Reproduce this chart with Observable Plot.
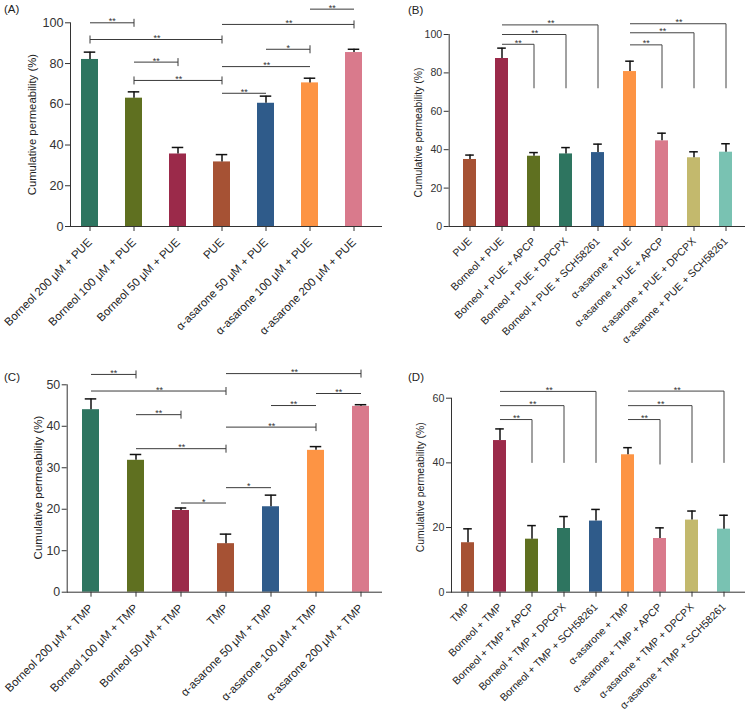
<!DOCTYPE html>
<html><head><meta charset="utf-8">
<script src="https://cdn.jsdelivr.net/npm/d3@7"></script>
<script src="https://cdn.jsdelivr.net/npm/@observablehq/plot@0.6"></script>
<style>
body{margin:0;background:#fff;font-family:"Liberation Sans",Arial,sans-serif;}
#root{position:relative;width:745px;height:713px;overflow:hidden;background:#fff;}
.panel{position:absolute;}
.tag{position:absolute;font-size:11.5px;color:#222;font-family:"Liberation Sans",Arial,sans-serif;}
</style></head><body><div id="root"></div>
<script>
// ---------- Panel A (PUE, concentration) ----------
const catsA = ["Borneol 200 μM + PUE","Borneol 100 μM + PUE","Borneol 50 μM + PUE","PUE","α-asarone 50 μM + PUE","α-asarone 100 μM + PUE","α-asarone 200 μM + PUE"];
const meanA = [82.0, 63.0, 35.6, 31.7, 60.5, 70.5, 85.4];
const upperA = [85.6, 66.1, 38.8, 35.3, 64.0, 72.8, 87.0];
const ticksA = [0, 20, 40, 60, 80, 100];
// [fromIndex, toIndex, level, label, leftTick, rightTick]
const bracketsA = [
  [0, 1, 100.0, "**", 0, 1],
  [0, 3, 91.8, "**", 1, 1],
  [1, 2, 80.7, "**", 0, 1],
  [1, 3, 71.7, "**", 1, 1],
  [3, 4, 65.4, "**", 0, 0],
  [3, 5, 78.5, "**", 0, 0],
  [4, 5, 87.0, "*", 0, 1],
  [3, 6, 99.2, "**", 0, 1],
  [5, 6, 106.7, "**", 0, 0]
];
// ---------- Panel B (PUE, antagonists) ----------
const catsB = ["PUE","Borneol + PUE","Borneol + PUE + APCP","Borneol + PUE + DPCPX","Borneol + PUE + SCH58261","α-asarone + PUE","α-asarone + PUE + APCP","α-asarone + PUE + DPCPX","α-asarone + PUE + SCH58261"];
const meanB = [34.9, 87.5, 36.6, 37.8, 38.5, 80.7, 44.6, 35.8, 38.7];
const upperB = [37.2, 92.9, 38.5, 41.1, 42.9, 86.1, 48.6, 38.9, 43.1];
const ticksB = [0, 20, 40, 60, 80, 100];
// [fromIndex, toIndex, level, label, dropTo]
const bracketsB = [
  [1, 2, 94.9, "**", 72],
  [1, 3, 100.0, "**", 72],
  [1, 4, 105.0, "**", 72],
  [5, 6, 94.6, "**", 72],
  [5, 7, 100.9, "**", 72],
  [5, 8, 105.6, "**", 72]
];
// ---------- Panel C (TMP, concentration) ----------
const catsC = ["Borneol 200 μM + TMP","Borneol 100 μM + TMP","Borneol 50 μM + TMP","TMP","α-asarone 50 μM + TMP","α-asarone 100 μM + TMP","α-asarone 200 μM + TMP"];
const meanC = [44.0, 31.8, 19.7, 11.7, 20.6, 34.2, 44.8];
const upperC = [46.6, 33.2, 20.3, 14.0, 23.4, 35.1, 45.2];
const ticksC = [0, 10, 20, 30, 40, 50];
const bracketsC = [
  [0, 1, 52.5, "**", 0, 1],
  [0, 3, 48.5, "**", 0, 1],
  [1, 2, 42.8, "**", 0, 1],
  [1, 3, 34.6, "**", 0, 1],
  [2, 3, 21.5, "*", 0, 0],
  [3, 4, 25.2, "*", 0, 0],
  [3, 5, 39.8, "**", 0, 1],
  [4, 5, 45.0, "**", 0, 0],
  [3, 6, 52.7, "**", 0, 1],
  [5, 6, 47.9, "**", 0, 0]
];
// ---------- Panel D (TMP, antagonists) ----------
const catsD = ["TMP","Borneol + TMP","Borneol + TMP + APCP","Borneol + TMP + DPCPX","Borneol + TMP + SCH58261","α-asarone + TMP","α-asarone + TMP + APCP","α-asarone + TMP + DPCPX","α-asarone + TMP + SCH58261"];
const meanD = [15.3, 46.9, 16.4, 19.7, 22.0, 42.5, 16.6, 22.3, 19.5];
const upperD = [19.6, 50.5, 20.6, 23.4, 25.6, 44.7, 19.9, 25.1, 23.8];
const ticksD = [0, 20, 40, 60];
const bracketsD = [
  [1, 2, 53.4, "**", 40],
  [1, 3, 57.7, "**", 40],
  [1, 4, 62.1, "**", 40],
  [5, 6, 53.4, "**", 39.5],
  [5, 7, 57.7, "**", 40],
  [5, 8, 62.2, "**", 40]
];
// ---------- Colours ----------
const colorsConc = ["#2e7560","#5f7020","#9b2a4a","#a65234","#2f5b8a","#fd9444","#d97a8c"];
const colorsAnt = ["#a65234","#9b2a4a","#5f7020","#2e7560","#2f5b8a","#fd9444","#d97a8c","#c3b96d","#79c2b2"];

const FONT = "Liberation Sans, Arial, sans-serif";
const root = document.getElementById("root");

function makePanel(o) {
  const rows = o.cats.map((c, i) => ({c, m: o.mean[i], u: o.upper[i]}));
  const W = o.width - o.mL - o.mR;
  const n = o.cats.length;
  const step = W / (n - o.pi + 2 * o.po);
  const pxPerUnit = (o.height - o.mT - o.mB) / (o.yDomain[1] - o.yDomain[0]);
  const marks = [
    Plot.barY(rows, {x: "c", y: "m", fill: "c"}),
    Plot.ruleX(rows, {x: "c", y1: "m", y2: "u", stroke: "#111", strokeWidth: 1.5}),
    Plot.tickY(rows, {x: "c", y: "u", stroke: "#111", strokeWidth: 1.5, insetLeft: o.capInset, insetRight: o.capInset}),
    Plot.ruleY([0], {stroke: "#333", strokeWidth: 1}),
    Plot.frame({anchor: "left", stroke: "#333", strokeWidth: 1}),
    Plot.axisY({ticks: o.yTicks, tickSize: 5, tickPadding: 2, fontSize: o.yfs, label: null, stroke: "#333", fill: "#333"}),
    Plot.axisX({tickSize: 5, tickPadding: o.xPad, tickRotate: -45, fontSize: o.xfs, label: null, stroke: "#333", fill: "#222"}),
    Plot.text(["Cumulative permeability (%)"], {frameAnchor: "left", textAnchor: "middle", text: d => d, rotate: -90, dx: o.labDx, dy: o.labDy, fontSize: o.labFs, fill: "#222", lineAnchor: "middle"})
  ];
  if (o.type === "conc") {
    const h = 4 / pxPerUnit;
    marks.push(Plot.link(o.brackets, {x1: d => o.cats[d[0]], x2: d => o.cats[d[1]], y1: d => d[2], y2: d => d[2], stroke: "#3a3a3a", strokeWidth: 1}));
    const tks = [];
    o.brackets.forEach(d => { if (d[4]) tks.push({c: o.cats[d[0]], y: d[2]}); if (d[5]) tks.push({c: o.cats[d[1]], y: d[2]}); });
    marks.push(Plot.link(tks, {x1: "c", x2: "c", y1: d => d.y - h, y2: d => d.y + h, stroke: "#3a3a3a", strokeWidth: 1}));
  } else {
    marks.push(Plot.link(o.brackets, {x1: d => o.cats[d[0]], x2: d => o.cats[d[1]], y1: d => d[2], y2: d => d[2], stroke: "#444", strokeWidth: 1}));
    marks.push(Plot.link(o.brackets, {x1: d => o.cats[d[1]], x2: d => o.cats[d[1]], y1: d => d[2], y2: d => d[4], stroke: "#444", strokeWidth: 1}));
  }
  o.brackets.forEach(d => {
    marks.push(Plot.text([d], {x: e => o.cats[e[0]], y: e => e[2], text: e => e[3], dx: (d[1] - d[0]) * step / 2, dy: 1.5, lineAnchor: "bottom", fontSize: 9, fill: "#333"}));
  });
  const svg = Plot.plot({
    width: o.width, height: o.height,
    marginLeft: o.mL, marginRight: o.mR, marginTop: o.mT, marginBottom: o.mB,
    style: {background: "transparent", fontFamily: FONT, color: "#333", overflow: "visible"},
    x: {type: "band", domain: o.cats, paddingInner: o.pi, paddingOuter: o.po, align: o.align},
    y: {domain: o.yDomain},
    color: {domain: o.cats, range: o.colors},
    marks
  });
  const div = document.createElement("div");
  div.className = "panel";
  div.style.left = o.left + "px";
  div.style.top = o.top + "px";
  div.appendChild(svg);
  root.appendChild(div);
  const tag = document.createElement("div");
  tag.className = "tag";
  tag.textContent = o.tag;
  tag.style.left = o.tagX + "px";
  tag.style.top = o.tagY + "px";
  root.appendChild(tag);
}

makePanel({tag: "(A)", tagX: 4, tagY: 3, type: "conc", cats: catsA, mean: meanA, upper: upperA, colors: colorsConc, yDomain: [0, 100], yTicks: ticksA, brackets: bracketsA,
  left: 0, top: 0, width: 385, height: 360, mL: 70, mR: 3, mT: 22.3, mB: 134, pi: 0.609, po: 0.292, align: 0.366,
  capInset: 2.75, yfs: 12.6, xfs: 11.5, xPad: 9, labFs: 11.3, labDx: -38, labDy: 0});
makePanel({tag: "(B)", tagX: 408, tagY: 4, type: "ant", cats: catsB, mean: meanB, upper: upperB, colors: colorsAnt, yDomain: [0, 100], yTicks: ticksB, brackets: bracketsB,
  left: 372, top: 0, width: 373, height: 360, mL: 76.7, mR: 0, mT: 34, mB: 134, pi: 0.593, po: 0.331, align: 0.506,
  capInset: 2.2, yfs: 10.6, xfs: 10.5, xPad: 8, labFs: 10.4, labDx: -31, labDy: 2});
makePanel({tag: "(C)", tagX: 4, tagY: 371, type: "conc", cats: catsC, mean: meanC, upper: upperC, colors: colorsConc, yDomain: [0, 50], yTicks: ticksC, brackets: bracketsC,
  left: 0, top: 360, width: 385, height: 353, mL: 66.7, mR: 3, mT: 24.3, mB: 121.3, pi: 0.613, po: 0.254, align: 0.549,
  capInset: 2.75, yfs: 12.4, xfs: 11.5, xPad: 9, labFs: 11.5, labDx: -28.5, labDy: -1});
makePanel({tag: "(D)", tagX: 408, tagY: 371, type: "ant", cats: catsD, mean: meanD, upper: upperD, colors: colorsAnt, yDomain: [0, 60], yTicks: ticksD, brackets: bracketsD,
  left: 372, top: 360, width: 373, height: 353, mL: 79, mR: 0, mT: 37.7, mB: 121.3, pi: 0.595, po: 0.269, align: 0.398,
  capInset: 2.2, yfs: 10.7, xfs: 10.5, xPad: 8, labFs: 10.4, labDx: -30.7, labDy: -8});
</script>
</body></html>
